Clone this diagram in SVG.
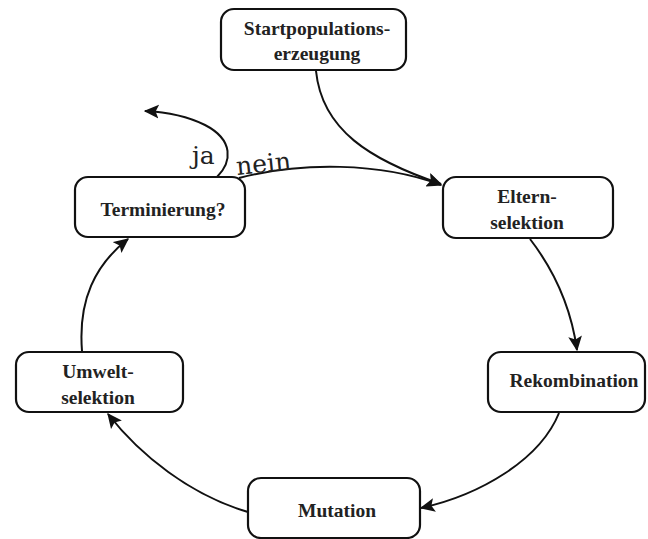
<svg xmlns="http://www.w3.org/2000/svg" width="648" height="539" viewBox="0 0 648 539">
  <style>
    .box { fill: #fff; stroke: #111; stroke-width: 2.2; }
    .lbl { font-family: "Liberation Serif", "DejaVu Serif", serif; font-weight: bold; font-size: 19.5px; fill: #222; text-anchor: middle; }
    .edge { fill: none; stroke: #111; stroke-width: 2; }
    .tag { font-family: "DejaVu Serif", "Liberation Serif", serif; font-size: 25px; fill: #222; }
  </style>
  <defs>
    <marker id="arrL" viewBox="0 0 12 12" refX="11" refY="6" markerWidth="15" markerHeight="15" markerUnits="userSpaceOnUse" orient="auto">
      <path d="M0,0.5 L12,6 L0,11.5 L2.5,6 Z" fill="#111"/>
    </marker>
  </defs>

  <g id="connectors">
    <!-- start population to parent selection -->
    <path class="edge" d="M316,71 C322,130 370,160 441,184" marker-end="url(#arrL)"/>
    <!-- termination: no -->
    <path class="edge" d="M239,178 C300,162 380,162 441,185" marker-end="url(#arrL)"/>
    <!-- termination: yes -->
    <path class="edge" d="M217,177 C232,162 234,140 205,125 C185,115 165,112 145,111" marker-end="url(#arrL)"/>
    <!-- parent selection to recombination -->
    <path class="edge" d="M530,239 C550,265 570,300 577,350" marker-end="url(#arrL)"/>
    <!-- recombination to mutation -->
    <path class="edge" d="M559,413 C540,460 480,495 421,508" marker-end="url(#arrL)"/>
    <!-- mutation to environmental selection -->
    <path class="edge" d="M248,512 C190,495 140,455 108,414" marker-end="url(#arrL)"/>
    <!-- environmental selection to termination -->
    <path class="edge" d="M82,351 C78,300 95,265 128,239" marker-end="url(#arrL)"/>
  </g>

  <text class="tag" x="192" y="164">ja</text>
  <text class="tag" x="237" y="175" transform="rotate(-6 237 175)">nein</text>

  <g id="start">
    <rect class="box" x="221" y="9" width="185" height="61" rx="13"/>
    <text class="lbl" x="317" y="35">Startpopulations-</text>
    <text class="lbl" x="317" y="60">erzeugung</text>
  </g>

  <g id="eltern">
    <rect class="box" x="443" y="177" width="170" height="61" rx="13"/>
    <text class="lbl" x="527" y="203">Eltern-</text>
    <text class="lbl" x="527" y="229">selektion</text>
  </g>

  <g id="terminierung">
    <rect class="box" x="75" y="177" width="170" height="60" rx="13"/>
    <text class="lbl" x="163" y="216">Terminierung?</text>
  </g>

  <g id="rekombination">
    <rect class="box" x="488" y="352" width="157" height="60" rx="13"/>
    <text class="lbl" x="574" y="387">Rekombination</text>
  </g>

  <g id="umwelt">
    <rect class="box" x="16" y="352" width="167" height="60" rx="13"/>
    <text class="lbl" x="98" y="378">Umwelt-</text>
    <text class="lbl" x="98" y="404">selektion</text>
  </g>

  <g id="mutation">
    <rect class="box" x="248" y="478" width="172" height="60" rx="13"/>
    <text class="lbl" x="337" y="517">Mutation</text>
  </g>
</svg>
